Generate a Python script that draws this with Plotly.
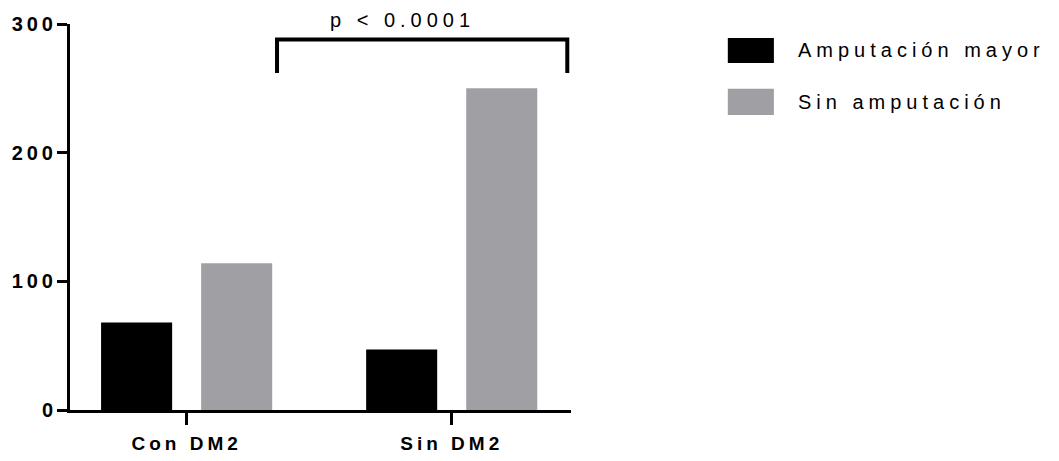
import plotly.graph_objects as go

categories = ["Con DM2", "Sin DM2"]
series_names = ["Amputación mayor", "Sin amputación"]
amputacion_mayor = [68, 47]
sin_amputacion = [114, 250]
series_colors = ["#000000", "#A09FA4"]
y_ticks = [0, 100, 200, 300]
p_label = "p < 0.0001"
bracket_y = [262, 288]
bracket_x = [0.341, 1.436]

FONT = "Arial, 'Liberation Sans', sans-serif"

fig = go.Figure()
for name, vals, col in zip(series_names, [amputacion_mayor, sin_amputacion], series_colors):
    fig.add_trace(go.Bar(x=categories, y=vals, name=name, marker=dict(color=col, line=dict(width=0)),
                         showlegend=False, hoverinfo="skip"))

# significance bracket
fig.add_shape(type="path",
              path=f"M {bracket_x[0]} {bracket_y[0]} L {bracket_x[0]} {bracket_y[1]} L {bracket_x[1]} {bracket_y[1]} L {bracket_x[1]} {bracket_y[0]}",
              xref="x", yref="y", line=dict(color="black", width=4))
fig.add_annotation(x=0.813, y=1.010, xref="x", yref="paper", text=p_label, showarrow=False,
                   xanchor="center", yanchor="middle", font=dict(family=FONT, size=20, color="black"))

# custom legend
legend_rows = [(0.964, 0.899), (0.832, 0.764)]
for name, col, (y1, y0) in zip(series_names, series_colors, legend_rows):
    fig.add_shape(type="rect", xref="paper", yref="paper", x0=1.313, x1=1.405, y0=y0, y1=y1,
                  fillcolor=col, line=dict(width=0))
    fig.add_annotation(x=1.449, y=(y0 + y1) / 2, xref="paper", yref="paper", text=name, showarrow=False,
                       xanchor="left", yanchor="middle", align="left",
                       font=dict(family=FONT, size=20, color="black"))

fig.update_layout(
    width=1059, height=461,
    margin=dict(l=70, r=488, t=24, b=51, pad=0, autoexpand=False),
    paper_bgcolor="white", plot_bgcolor="white",
    barmode="group", bargap=0.245, bargroupgap=0.29,
    font=dict(family=FONT, color="black"),
    showlegend=False,
)
fig.update_xaxes(range=[-0.44, 1.45], showline=True, linecolor="black", linewidth=3,
                 ticks="outside", ticklen=12, tickwidth=3, tickcolor="black",
                 tickfont=dict(family=FONT, size=19, weight="bold", color="black"),
                 ticklabelstandoff=2, showgrid=False, zeroline=False, automargin=False)
fig.update_yaxes(range=[0, 300], tickvals=y_ticks, showline=True, linecolor="black", linewidth=3,
                 ticks="outside", ticklen=10, tickwidth=3, tickcolor="black",
                 tickfont=dict(family=FONT, size=20, weight="bold", color="black"),
                 ticklabelstandoff=-4, showgrid=False, zeroline=False, automargin=False)

post = """
var s=document.createElement('style');
s.textContent='body{margin:0;} .xtick text, .ytick text{letter-spacing:4px;} .annotation-text{letter-spacing:5px;}';
document.head.appendChild(s);
"""
fig.write_html("out.html", post_script=post, config={"displayModeBar": False})
